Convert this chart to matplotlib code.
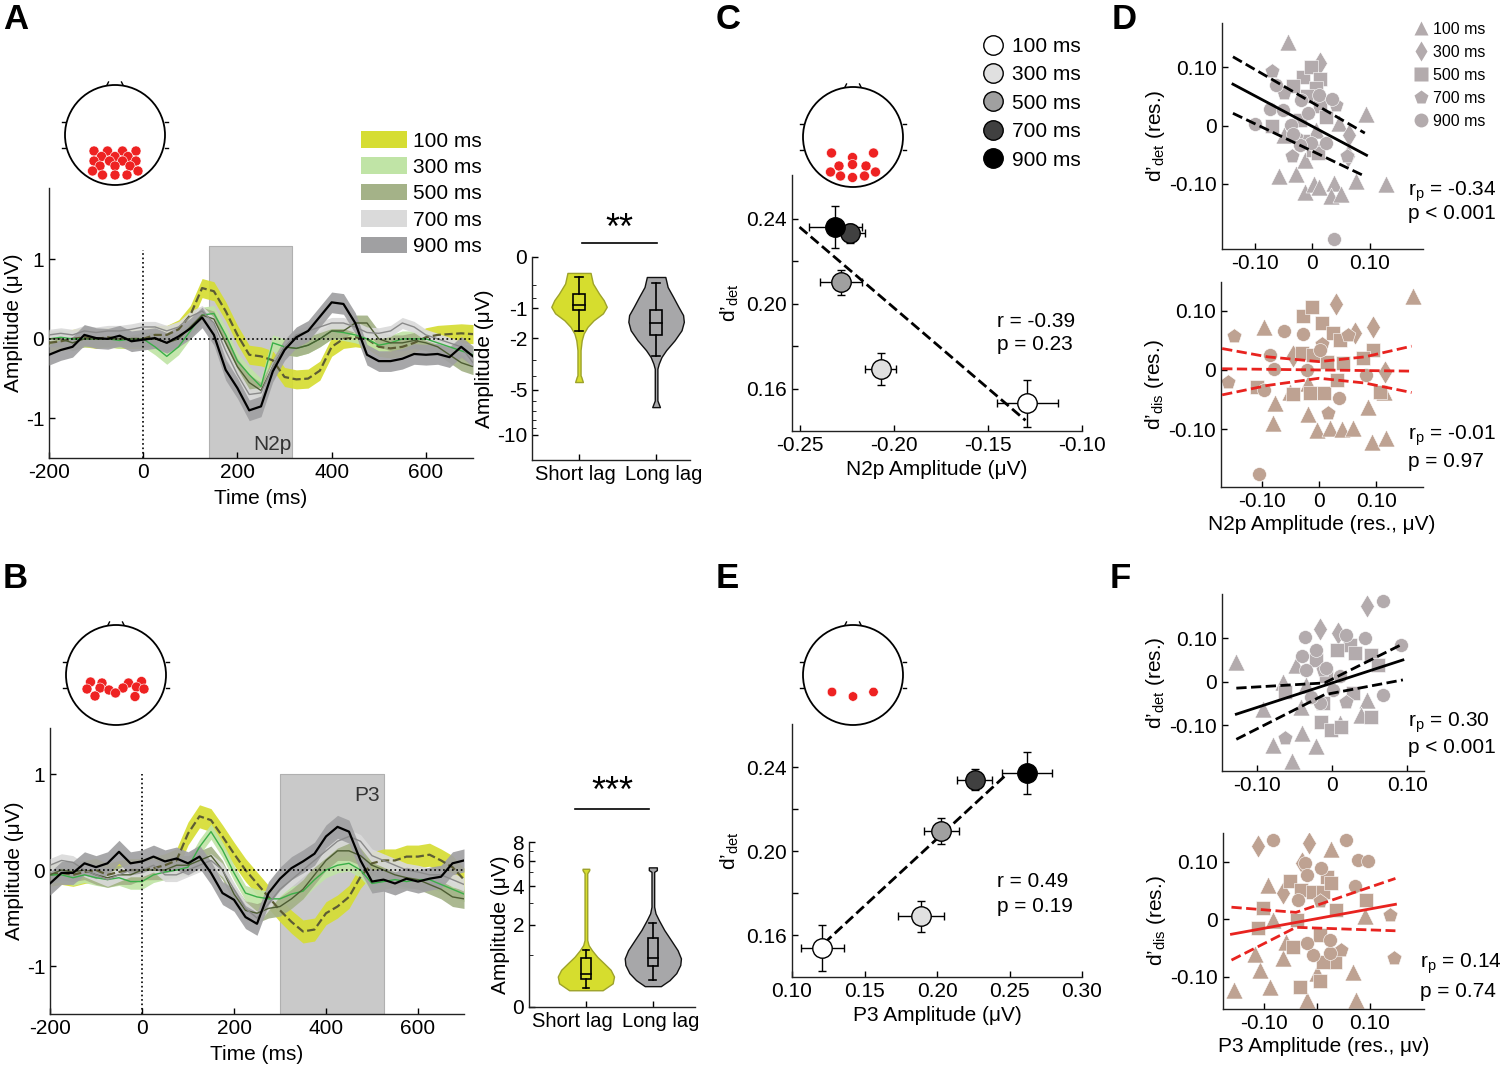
import numpy as np
import matplotlib
matplotlib.use("Agg")
import matplotlib.pyplot as plt
import matplotlib.transforms as mtransforms
from matplotlib.patches import Circle, Patch, Rectangle
from matplotlib.lines import Line2D

plt.rcParams['font.family'] = ['Liberation Sans', 'DejaVu Sans']
plt.rcParams['mathtext.fontset'] = 'custom'
plt.rcParams['mathtext.rm'] = 'Liberation Sans'
plt.rcParams['mathtext.it'] = 'Liberation Sans:italic'
plt.rcParams['font.size'] = 15
plt.rcParams['axes.unicode_minus'] = False
plt.rcParams['axes.linewidth'] = 1.0
plt.rcParams['axes.edgecolor'] = '#222222'
plt.rcParams['xtick.direction'] = 'in'
plt.rcParams['ytick.direction'] = 'in'

# ---------------- data ----------------
lags = ['100 ms', '300 ms', '500 ms', '700 ms', '900 ms']

erp_time = list(range(-200, 701, 25))

erp_a = [
    [-0.05, -0.03, 0.0, 0.02, 0.0, 0.02, 0.0, 0.0, 0.0, 0.05, 0.05, 0.12, 0.3, 0.64, 0.6, 0.35, 0.05, -0.2,
     -0.22, -0.27, -0.48, -0.51, -0.5, -0.4, -0.1, 0.0, 0.02, 0.0, -0.1, -0.12, -0.1, -0.05, 0.02, 0.05, 0.06, 0.07, 0.06],
    [0.0, 0.02, 0.0, 0.0, 0.0, 0.0, -0.02, 0.0, 0.0, -0.1, -0.22, -0.1, 0.1, 0.3, 0.32, 0.05, -0.28, -0.45,
     -0.6, -0.05, -0.1, -0.12, -0.08, 0.0, 0.1, 0.08, 0.05, 0.0, -0.08, -0.05, 0.0, 0.0, 0.0, -0.05, -0.1, -0.15, -0.2],
    [0.0, 0.0, -0.05, 0.0, 0.0, 0.0, 0.0, 0.0, 0.0, 0.0, -0.05, 0.0, 0.15, 0.3, 0.25, -0.05, -0.35, -0.55,
     -0.65, -0.35, -0.1, -0.12, -0.08, 0.0, 0.1, 0.1, 0.2, 0.2, 0.0, -0.05, -0.05, -0.02, -0.05, -0.1, -0.2, -0.3, -0.35],
    [0.05, 0.07, 0.05, 0.1, 0.08, 0.1, 0.1, 0.12, 0.15, 0.15, 0.1, 0.15, 0.28, 0.35, 0.2, -0.15, -0.45, -0.7,
     -0.68, -0.35, -0.1, 0.05, 0.1, 0.15, 0.2, 0.2, 0.15, 0.08, 0.07, 0.1, 0.2, 0.15, 0.05, 0.0, -0.05, -0.1, -0.3],
    [-0.2, -0.14, -0.1, 0.05, 0.01, 0.0, 0.04, -0.03, -0.01, 0.01, -0.05, 0.03, 0.13, 0.27, 0.05, -0.39, -0.62, -0.9,
     -0.85, -0.41, -0.14, 0.02, 0.1, 0.28, 0.46, 0.44, 0.2, -0.2, -0.28, -0.28, -0.25, -0.19, -0.2, -0.19, -0.23, -0.1, -0.22],
]
erp_sem_a = [0.12, 0.1, 0.1, 0.07, 0.13]

erp_b = [
    [-0.05, -0.03, -0.05, -0.02, 0.0, -0.05, -0.02, 0.0, 0.0, 0.02, 0.05, 0.1, 0.38, 0.56, 0.52, 0.35, 0.17, 0.0,
     -0.14, -0.28, -0.42, -0.54, -0.64, -0.62, -0.45, -0.38, -0.28, -0.07, 0.07, 0.1, 0.1, 0.14, 0.14, 0.16, 0.1, 0.03, -0.1],
    [-0.05, -0.05, -0.08, -0.05, -0.08, -0.1, -0.08, -0.12, -0.12, -0.05, -0.02, 0.0, 0.03, 0.24, 0.4, 0.21, -0.03, -0.24,
     -0.28, -0.3, -0.3, -0.25, -0.22, -0.1, 0.0, 0.05, 0.07, 0.0, -0.14, -0.12, -0.1, -0.12, -0.1, -0.1, -0.15, -0.2, -0.25],
    [-0.05, 0.0, -0.02, 0.0, -0.05, -0.08, -0.05, -0.05, 0.0, 0.0, 0.0, 0.05, 0.05, 0.1, 0.15, 0.0, -0.25, -0.42,
     -0.45, -0.4, -0.38, -0.3, -0.2, -0.05, 0.1, 0.2, 0.2, 0.15, 0.05, 0.0, -0.05, -0.08, -0.1, -0.15, -0.2, -0.28, -0.3],
    [0.05, 0.1, 0.08, 0.0, -0.05, -0.1, -0.05, 0.0, 0.0, 0.05, -0.05, -0.05, 0.0, 0.05, 0.1, 0.0, -0.2, -0.4,
     -0.5, -0.35, -0.2, -0.1, 0.0, 0.1, 0.2, 0.3, 0.35, 0.3, 0.15, 0.1, 0.05, 0.0, -0.02, -0.05, -0.05, -0.1, -0.15],
    [-0.14, -0.03, -0.03, 0.07, 0.03, 0.07, 0.19, 0.07, 0.09, 0.14, 0.09, 0.12, 0.07, 0.14, -0.03, -0.24, -0.31, -0.49,
     -0.56, -0.24, -0.09, 0.02, 0.09, 0.17, 0.35, 0.45, 0.4, 0.1, -0.12, -0.1, -0.14, -0.09, -0.12, -0.09, -0.07, 0.07, 0.1],
]
erp_sem_b = [0.12, 0.08, 0.1, 0.07, 0.12]

n2p_window = [140, 315]
p3_window = [300, 525]

# violins (amplitude level, half width)
viol_a_short_lv = [-0.24, -0.43, -0.64, -0.79, -0.96, -1.14, -1.35, -1.57, -1.81, -2.08, -2.52, -3.94, -4.06, -4.41]
viol_a_short_hw = [0.15, 0.18, 0.26, 0.32, 0.36, 0.31, 0.19, 0.11, 0.06, 0.035, 0.02, 0.02, 0.03, 0.05]
viol_a_long_lv = [-0.31, -0.50, -0.71, -0.96, -1.19, -1.40, -1.69, -2.08, -2.52, -2.86, -3.22, -3.52, -5.94, -6.59]
viol_a_long_hw = [0.12, 0.15, 0.22, 0.29, 0.35, 0.36, 0.33, 0.24, 0.13, 0.07, 0.035, 0.017, 0.017, 0.05]
box_a_short = [-1.72, -1.05, -0.91, -0.64, -0.31]
box_a_long = [-2.82, -1.88, -1.45, -1.05, -0.42]

viol_b_short_lv = [0.25, 0.37, 0.50, 0.64, 0.79, 0.95, 1.13, 1.28, 1.44, 4.93, 5.19, 5.30]
viol_b_short_hw = [0.25, 0.40, 0.42, 0.37, 0.27, 0.17, 0.09, 0.04, 0.02, 0.02, 0.05, 0.05]
viol_b_long_lv = [0.32, 0.43, 0.57, 0.75, 0.91, 1.13, 1.44, 1.79, 2.18, 2.48, 2.80, 5.05, 5.19, 5.42]
viol_b_long_hw = [0.12, 0.25, 0.35, 0.41, 0.42, 0.37, 0.27, 0.17, 0.09, 0.04, 0.02, 0.02, 0.06, 0.06]
box_b_short = [0.28, 0.45, 0.55, 0.91, 1.15]
box_b_long = [0.43, 0.73, 0.91, 1.50, 2.07]

# group means (C: N2p, E: P3)
c_x = [-0.129, -0.207, -0.228, -0.223, -0.231]
c_y = [0.153, 0.169, 0.210, 0.233, 0.236]
c_xerr = [0.016, 0.008, 0.011, 0.008, 0.014]
c_yerr = [0.011, 0.0075, 0.006, 0.0045, 0.010]
c_fit_x = [-0.250, -0.130]
c_fit_y = [0.236, 0.145]

e_x = [0.121, 0.189, 0.203, 0.226, 0.262]
e_y = [0.154, 0.169, 0.2095, 0.234, 0.237]
e_xerr = [0.015, 0.016, 0.012, 0.012, 0.017]
e_yerr = [0.011, 0.0074, 0.006, 0.005, 0.010]
e_fit_x = [0.122, 0.248]
e_fit_y = [0.156, 0.2365]

# residual scatter (per lag: 100, 300, 500, 700, 900)
dtop_x = [
    [-0.043, 0.093, 0.127, -0.058, -0.029, -0.013, -0.013, 0.002, 0.011, 0.038, 0.032, 0.050, 0.075, 0.046, -0.049, 0.007],
    [0.013, 0.064, 0.061],
    [-0.071, -0.017, -0.003, 0.014, 0.006, -0.010, 0.013, 0.024, -0.016, 0.001, 0.010, -0.034, -0.022],
    [-0.071, -0.049, -0.035, 0.041, 0.060, -0.028],
    [-0.099, -0.074, -0.063, -0.051, -0.037, -0.019, 0.012, 0.034, -0.002, 0.024, -0.022, 0.038, -0.008, -0.034],
]
dtop_y = [
    [0.144, 0.020, -0.100, -0.087, -0.083, -0.060, -0.115, -0.100, -0.105, -0.098, -0.121, -0.117, -0.096, 0.004, -0.016, -0.007],
    [0.107, -0.016, -0.053],
    [-0.001, 0.084, 0.101, 0.079, 0.064, 0.050, 0.033, 0.015, -0.027, -0.042, -0.047, 0.067, 0.010],
    [0.093, 0.055, -0.053, 0.036, -0.053, -0.019],
    [0.003, 0.028, 0.070, 0.027, 0.001, 0.044, 0.053, 0.045, -0.030, -0.030, -0.033, -0.195, 0.021, -0.014],
]
dtop_fit_x = [-0.138, 0.094]
dtop_fit_y = [0.071, -0.051]
dtop_ci_x = [-0.138, 0.091]
dtop_ci_hi = [0.118, -0.013]
dtop_ci_lo = [0.021, -0.087]

dbot_x = [
    [0.165, -0.097, -0.078, -0.081, -0.019, -0.004, 0.019, 0.040, 0.060, 0.086, 0.092, 0.118, 0.113, -0.019, -0.051],
    [0.030, 0.095, 0.063, 0.115, -0.046],
    [-0.029, -0.013, 0.005, 0.025, 0.037, -0.030, -0.011, 0.013, 0.042, 0.095, -0.109, -0.045, -0.016, 0.008, 0.031, 0.107, 0.076],
    [-0.150, -0.160, 0.005, 0.016, 0.051],
    [-0.062, -0.029, -0.087, -0.079, -0.097, 0.034, 0.082, -0.106, 0.002, -0.022],
]
dbot_y = [
    [0.125, 0.073, -0.055, -0.090, -0.074, -0.101, -0.098, -0.100, -0.097, -0.062, -0.121, -0.115, -0.037, -0.022, -0.037],
    [0.111, 0.072, 0.062, -0.003, 0.024],
    [0.090, 0.106, 0.079, 0.062, 0.051, 0.028, 0.025, 0.014, 0.011, 0.034, -0.028, -0.040, -0.039, -0.039, -0.017, -0.037, 0.020],
    [0.057, -0.020, 0.044, -0.072, 0.059],
    [0.065, 0.061, 0.025, 0.001, -0.033, -0.048, -0.008, -0.175, 0.034, 0.0],
]
dbot_fit_x = [-0.170, 0.162]
dbot_fit_y = [0.002, -0.002]
dbot_ci_x = [-0.170, -0.090, 0.0, 0.080, 0.162]
dbot_ci_hi = [0.036, 0.022, 0.014, 0.022, 0.040]
dbot_ci_lo = [-0.042, -0.026, -0.014, -0.022, -0.038]

ftop_x = [
    [-0.127, -0.092, -0.078, -0.053, -0.040, -0.021, -0.065, -0.048, -0.041, 0.046, 0.039, 0.010, -0.034],
    [-0.016, 0.046, 0.008],
    [-0.063, -0.014, -0.002, 0.012, 0.052, 0.052, 0.061, 0.024, 0.006, -0.021, -0.008, 0.030, -0.012, 0.028],
    [-0.062, 0.019, -0.012],
    [-0.036, -0.040, -0.021, 0.019, 0.044, 0.068, 0.092, 0.068, -0.008, 0.001, -0.034, -0.016, 0.010, -0.028],
]
ftop_y = [
    [0.046, -0.064, -0.146, -0.182, -0.119, -0.148, 0.0, 0.038, -0.058, -0.042, -0.077, -0.096, -0.008],
    [0.121, 0.175, 0.112],
    [-0.023, -0.092, -0.112, -0.104, -0.081, 0.062, 0.038, 0.085, 0.073, 0.050, 0.012, 0.065, -0.050, -0.027],
    [-0.131, -0.046, 0.027],
    [0.104, 0.059, 0.073, 0.108, 0.100, 0.185, 0.085, -0.031, 0.031, -0.019, 0.027, -0.050, 0.012, -0.035],
]
ftop_fit_x = [-0.127, 0.094]
ftop_fit_y = [-0.075, 0.050]
ftop_ci_x = [-0.127, -0.010, 0.094]
ftop_ci_hi = [-0.015, -0.003, 0.087]
ftop_ci_lo = [-0.133, -0.030, 0.004]

fbot_x = [
    [-0.158, -0.108, -0.118, -0.089, -0.092, -0.083, -0.064, -0.019, -0.001, 0.027, 0.068, 0.073, 0.090, -0.058],
    [-0.111, -0.015, -0.064, -0.028],
    [-0.102, -0.111, -0.052, -0.030, -0.008, 0.011, 0.018, 0.027, 0.093, -0.033, 0.005, 0.033, 0.011, -0.045, 0.005, 0.036, -0.039],
    [0.137, 0.145, 0.046, 0.005],
    [-0.083, 0.054, -0.023, -0.020, 0.008, 0.077, 0.096, 0.071, -0.036, -0.008, 0.024, 0.024, -0.020],
]
fbot_y = [
    [-0.123, -0.088, -0.060, -0.117, 0.060, -0.001, -0.068, -0.140, -0.094, 0.123, -0.091, -0.140, 0.005, -0.039],
    [0.128, 0.132, 0.045, 0.097],
    [0.019, -0.016, 0.066, 0.051, 0.048, 0.048, 0.074, 0.063, 0.034, -0.117, -0.108, -0.074, -0.074, -0.048, -0.027, 0.016, -0.001],
    [0.008, -0.068, -0.053, 0.031],
    [0.137, 0.138, 0.097, 0.077, 0.089, 0.103, 0.102, 0.058, 0.034, -0.062, -0.059, -0.036, -0.042],
]
fbot_fit_x = [-0.162, 0.148]
fbot_fit_y = [-0.026, 0.026]
fbot_ci_x = [-0.162, -0.040, 0.148]
fbot_ci_hi = [0.021, 0.012, 0.071]
fbot_ci_lo = [-0.071, -0.014, -0.020]

# electrode sites on the head sketches (unit-radius head)
head_a_x = [-0.42, -0.15, 0.15, 0.42, -0.27, 0.0, 0.26, -0.42, -0.11, 0.15, 0.42, -0.3, 0.0, 0.3, -0.45, 0.46, -0.25, 0.0, 0.24]
head_a_y = [-0.32, -0.32, -0.32, -0.32, -0.43, -0.43, -0.43, -0.52, -0.52, -0.52, -0.52, -0.62, -0.62, -0.62, -0.72, -0.72, -0.8, -0.8, -0.8]
head_b_x = [-0.51, -0.28, 0.25, 0.51, -0.58, -0.32, -0.14, 0.14, 0.41, 0.56, -0.42, -0.01, 0.38]
head_b_y = [-0.14, -0.16, -0.16, -0.13, -0.28, -0.26, -0.30, -0.26, -0.24, -0.28, -0.42, -0.36, -0.43]
head_c_x = [-0.43, 0.41, -0.01, -0.28, -0.01, 0.26, -0.45, -0.25, -0.01, 0.23, 0.45]
head_c_y = [-0.32, -0.32, -0.41, -0.58, -0.55, -0.58, -0.70, -0.78, -0.81, -0.78, -0.70]
head_e_x = [-0.42, 0.0, 0.41]
head_e_y = [-0.34, -0.43, -0.34]

# ---------------- styles ----------------
band_colors = ['#d6dd33', '#c0e4a6', '#a4b288', '#dadada', '#a0a0a2']
line_colors = ['#5c5c34', '#3aaf48', '#4d5c33', '#8a8a8a', '#000000']
dot_colors = ['#ffffff', '#e0e0e0', '#a0a0a0', '#404040', '#000000']
shape_markers = ['^', 'd', 's', 'p', 'o']
shape_sizes = [150, 140, 105, 125, 100]
det_color = '#b3abad'
dis_color = '#bea292'

W, H = 1500, 1065
fig = plt.figure(figsize=(15, 10.65), dpi=100)


def add_ax(x0, x1, ytop, ybot):
    return fig.add_axes([x0 / W, 1 - ybot / H, (x1 - x0) / W, (ybot - ytop) / H])


def clean(ax):
    ax.spines['top'].set_visible(False)
    ax.spines['right'].set_visible(False)
    ax.tick_params(length=4, width=1, labelsize=15)


def draw_head(cx, cy, xs, ys, dot_r):
    hax = fig.add_axes([(cx - 62) / W, 1 - (cy + 62) / H, 124 / W, 124 / H])
    hax.set_xlim(-1.24, 1.24)
    hax.set_ylim(-1.24, 1.24)
    hax.axis('off')
    hax.add_patch(Circle((0, 0), 1, fill=False, lw=1.3, ec='black'))
    for sy in [0.26, -0.26]:
        hax.plot([-1.0, -1.06], [sy, sy], color='black', lw=1)
        hax.plot([1.0, 1.06], [sy, sy], color='black', lw=1)
    hax.plot([-0.16, -0.13], [1.0, 1.06], color='black', lw=1)
    hax.plot([0.13, 0.16], [1.06, 1.0], color='black', lw=1)
    for x, y in zip(xs, ys):
        hax.add_patch(Circle((x, y), dot_r, fc='#ee2222', ec='white', lw=0.4))


def draw_erp(ax, means, sems, window, win_top, win_label, label_xy, vline_top, ylim):
    ax.fill_between(window, ylim[0], win_top, color='#c9c9c9', lw=0.8, edgecolor='#b0b0b0', zorder=0)
    t = np.array(erp_time)
    for i in range(5):
        m = np.array(means[i])
        ax.fill_between(t, m - sems[i], m + sems[i], color=band_colors[i], lw=0, alpha=0.92, zorder=1 + i)
    for i in range(5):
        ax.plot(t, means[i], color=line_colors[i], lw=1.6 if i in (0, 4) else 1.0,
                ls='--' if i == 0 else '-', zorder=7)
    ax.axhline(0, color='black', ls=':', lw=1.2, zorder=8)
    ax.plot([0, 0], [ylim[0], vline_top], color='black', ls=':', lw=1.2, zorder=8)
    ax.text(label_xy[0], label_xy[1], win_label, ha='center', va='center', fontsize=15, color='#333333', zorder=9)
    ax.set_xlim(-200, 700)
    ax.set_ylim(*ylim)
    ax.set_xticks([-200, 0, 200, 400, 600])
    ax.set_yticks([-1, 0, 1])
    ax.set_xlabel('Time (ms)', fontsize=15, labelpad=5)
    ax.set_ylabel('Amplitude (μV)', fontsize=15, labelpad=2)
    clean(ax)


def fwd(v):
    v = np.asarray(v, dtype=float)
    return np.sign(v) * np.log10(1 + np.abs(v))


def inv(u):
    u = np.asarray(u, dtype=float)
    return np.sign(u) * (10 ** np.abs(u) - 1)


def draw_violin(ax, pos, lv, hw, box, face, edge):
    lv = np.array(lv)
    hw = np.array(hw)
    ax.fill_betweenx(lv, pos - hw, pos + hw, facecolor=face, edgecolor=edge, lw=1.0, zorder=2)
    wlo, q1, med, q3, whi = box
    ax.plot([pos, pos], [wlo, q1], color='black', lw=1.2, zorder=3)
    ax.plot([pos, pos], [q3, whi], color='black', lw=1.2, zorder=3)
    ax.plot([pos - 0.05, pos + 0.05], [wlo, wlo], color='black', lw=1.2, zorder=3)
    ax.plot([pos - 0.05, pos + 0.05], [whi, whi], color='black', lw=1.2, zorder=3)
    ax.add_patch(Rectangle((pos - 0.075, q1), 0.15, q3 - q1, fill=False, ec='black', lw=1.2, zorder=3))
    ax.plot([pos - 0.075, pos + 0.075], [med, med], color='black', lw=1.2, zorder=3)


def violin_xlabels(ax, shifts):
    ax.set_xticks([1, 2])
    ax.set_xticklabels(['Short lag', 'Long lag'], fontsize=14.5)
    for lab, dx in zip(ax.get_xticklabels(), shifts):
        lab.set_transform(lab.get_transform() + mtransforms.ScaledTranslation(dx / 100, 0, fig.dpi_scale_trans))


def draw_means(ax, xs, ys, xerr, yerr, fit_x, fit_y):
    ax.errorbar(xs, ys, xerr=xerr, yerr=yerr, fmt='none', ecolor='black', elinewidth=1, capsize=3, zorder=2)
    ax.plot(fit_x, fit_y, color='black', ls='--', lw=2, zorder=3)
    for i in range(5):
        ax.plot(xs[i], ys[i], 'o', ms=14, mfc=dot_colors[i], mec='black', mew=1, zorder=4)
    ax.set_ylim(0.14, 0.2605)
    ax.set_yticks([0.16, 0.18, 0.20, 0.22, 0.24])
    ax.set_yticklabels(['0.16', '', '0.20', '', '0.24'])
    ax.set_ylabel('d’$_{\\mathrm{det}}$', fontsize=15)
    clean(ax)


def draw_resid(ax, xs, ys, color, fit_x, fit_y, ci_x, ci_hi, ci_lo, lcolor, fit_ls, xlim, ylim, ylab):
    for i in range(5):
        ax.scatter(xs[i], ys[i], marker=shape_markers[i], s=shape_sizes[i], c=color,
                   edgecolors='white', linewidths=0.4, zorder=2)
    ax.plot(fit_x, fit_y, color=lcolor, lw=2, ls=fit_ls, zorder=3)
    ax.plot(ci_x, ci_hi, color=lcolor, lw=2, ls='--', zorder=3)
    ax.plot(ci_x, ci_lo, color=lcolor, lw=2, ls='--', zorder=3)
    ax.set_xlim(*xlim)
    ax.set_ylim(*ylim)
    ax.set_xticks([-0.1, 0, 0.1])
    ax.set_xticklabels(['-0.10', '0', '0.10'])
    ax.set_yticks([-0.1, 0, 0.1])
    ax.set_yticklabels(['-0.10', '0', '0.10'])
    ax.set_ylabel(ylab, fontsize=15, labelpad=2)
    clean(ax)


# ---------------- A ----------------
ax = add_ax(49, 473, 188, 458)
draw_erp(ax, erp_a, erp_sem_a, n2p_window, 1.17, 'N2p', (274, -1.33), 1.12, (-1.5, 1.9))
ax.legend([Patch(facecolor=c, edgecolor='none') for c in band_colors], lags, loc='upper left',
          bbox_to_anchor=(361 / W, 1 - 131 / H), bbox_transform=fig.transFigure, frameon=False,
          fontsize=15, handlelength=2.2, handleheight=0.85, labelspacing=0.33, handletextpad=0.3,
          borderpad=0, borderaxespad=0)
draw_head(115, 135, head_a_x, head_a_y, 0.1)

ax = add_ax(532, 690, 257, 460)
ax.set_yscale('function', functions=(fwd, inv))
draw_violin(ax, 1, viol_a_short_lv, viol_a_short_hw, box_a_short, '#d6dd2e', '#9da22a')
draw_violin(ax, 2, viol_a_long_lv, viol_a_long_hw, box_a_long, '#a7a7a9', '#111111')
ax.set_ylim(-14.5, 0)
ax.set_xlim(0.39, 2.44)
ax.set_yticks([0, -1, -2, -5, -10])
ax.set_yticklabels(['0', '-1', '-2', '-5', '-10'])
ax.set_yticks([-0.45, -0.75, -3, -4, -6, -7, -8, -9], minor=True)
ax.tick_params(which='minor', length=3, direction='in')
ax.set_ylabel('Amplitude (μV)', fontsize=15, labelpad=2)
clean(ax)
violin_xlabels(ax, [-4, 8])
ax.plot([1.04, 2.01], [1.069, 1.069], color='black', lw=1.2, transform=ax.get_xaxis_transform(), clip_on=False)
ax.text(1.52, 1.135, '**', ha='center', va='center', fontsize=26, transform=ax.get_xaxis_transform())

# ---------------- B ----------------
ax = add_ax(50, 464, 728, 1014)
draw_erp(ax, erp_b, erp_sem_b, p3_window, 1.0, 'P3', (490, 0.78), 1.0, (-1.5, 1.48))
draw_head(116, 675, head_b_x, head_b_y, 0.1)

ax = add_ax(529, 695, 842, 1007)
ax.set_yscale('function', functions=(fwd, inv))
draw_violin(ax, 1, viol_b_short_lv, viol_b_short_hw, box_b_short, '#d6dd2e', '#9da22a')
draw_violin(ax, 2, viol_b_long_lv, viol_b_long_hw, box_b_long, '#a7a7a9', '#111111')
ax.set_ylim(0, 8)
ax.set_xlim(0.15, 2.63)
ax.set_yticks([0, 2, 4, 6, 8])
ax.set_yticks([1, 3, 5, 7], minor=True)
ax.tick_params(which='minor', length=3, direction='in')
ax.set_ylabel('Amplitude (μV)', fontsize=15, labelpad=2)
clean(ax)
violin_xlabels(ax, [-14, 8])
ax.plot([0.84, 1.94], [1.2, 1.2], color='black', lw=1.2, transform=ax.get_xaxis_transform(), clip_on=False)
ax.text(1.39, 1.30, '***', ha='center', va='center', fontsize=26, transform=ax.get_xaxis_transform())

# ---------------- C ----------------
ax = add_ax(792, 1082, 175, 431)
draw_means(ax, c_x, c_y, c_xerr, c_yerr, c_fit_x, c_fit_y)
ax.set_xlim(-0.254, -0.10)
ax.set_xticks([-0.25, -0.20, -0.15, -0.10])
ax.set_xticklabels(['-0.25', '-0.20', '-0.15', '-0.10'])
ax.set_xlabel('N2p Amplitude (μV)', fontsize=15, labelpad=4)
ax.text(0.707, 0.426, 'r = -0.39', transform=ax.transAxes, va='center', fontsize=15)
ax.text(0.707, 0.336, 'p = 0.23', transform=ax.transAxes, va='center', fontsize=15)
ax.legend([Line2D([], [], ls='', marker='o', ms=14, mfc=c, mec='black') for c in dot_colors], lags,
          loc='upper left', bbox_to_anchor=(983 / W, 1 - 37 / H), bbox_transform=fig.transFigure,
          frameon=False, fontsize=15, labelspacing=0.45, handlelength=1.0, handletextpad=0.4,
          borderpad=0, borderaxespad=0)
draw_head(853, 137, head_c_x, head_c_y, 0.1)

# ---------------- E ----------------
ax = add_ax(792, 1082, 724, 977)
draw_means(ax, e_x, e_y, e_xerr, e_yerr, e_fit_x, e_fit_y)
ax.set_xlim(0.10, 0.30)
ax.set_xticks([0.10, 0.15, 0.20, 0.25, 0.30])
ax.set_xticklabels(['0.10', '0.15', '0.20', '0.25', '0.30'])
ax.set_xlabel('P3 Amplitude (μV)', fontsize=15, labelpad=4)
ax.text(0.707, 0.379, 'r = 0.49', transform=ax.transAxes, va='center', fontsize=15)
ax.text(0.707, 0.277, 'p = 0.19', transform=ax.transAxes, va='center', fontsize=15)
draw_head(853, 675, head_e_x, head_e_y, 0.095)

# ---------------- D ----------------
ax = add_ax(1222, 1423, 23, 249)
draw_resid(ax, dtop_x, dtop_y, det_color, dtop_fit_x, dtop_fit_y, dtop_ci_x, dtop_ci_hi, dtop_ci_lo,
           'black', '-', (-0.157, 0.192), (-0.212, 0.176), 'd’$_{\\mathrm{det}}$ (res.)')
ax.text(0.925, 0.252, 'r$_\\mathrm{p}$ = -0.34', transform=ax.transAxes, va='center', fontsize=15)
ax.text(0.925, 0.159, 'p < 0.001', transform=ax.transAxes, va='center', fontsize=15)
ax.legend([Line2D([], [], ls='', marker=m, ms=10, mfc=det_color, mec='none') for m in shape_markers], lags,
          loc='upper left', bbox_to_anchor=(1414 / W, 1 - 22 / H), bbox_transform=fig.transFigure,
          frameon=False, fontsize=11.5, labelspacing=0.5, handlelength=0.9, handletextpad=0.3,
          borderpad=0, borderaxespad=0)

ax = add_ax(1221, 1423, 282, 487)
draw_resid(ax, dbot_x, dbot_y, dis_color, dbot_fit_x, dbot_fit_y, dbot_ci_x, dbot_ci_hi, dbot_ci_lo,
           '#e8231f', '--', (-0.172, 0.182), (-0.197, 0.148), 'd’$_{\\mathrm{dis}}$ (res.)')
ax.set_xlabel('N2p Amplitude (res., μV)', fontsize=15, labelpad=3)
ax.text(0.926, 0.249, 'r$_\\mathrm{p}$ = -0.01', transform=ax.transAxes, va='center', fontsize=15)
ax.text(0.926, 0.122, 'p = 0.97', transform=ax.transAxes, va='center', fontsize=15)

# ---------------- F ----------------
ax = add_ax(1222, 1424, 594, 771)
draw_resid(ax, ftop_x, ftop_y, det_color, ftop_fit_x, ftop_fit_y, ftop_ci_x, ftop_ci_hi, ftop_ci_lo,
           'black', '-', (-0.146, 0.122), (-0.206, 0.202), 'd’$_{\\mathrm{det}}$ (res.)')
ax.text(0.92, 0.271, 'r$_\\mathrm{p}$ = 0.30', transform=ax.transAxes, va='center', fontsize=15)
ax.text(0.92, 0.13, 'p < 0.001', transform=ax.transAxes, va='center', fontsize=15)

ax = add_ax(1223, 1424, 833, 1009)
draw_resid(ax, fbot_x, fbot_y, dis_color, fbot_fit_x, fbot_fit_y, fbot_ci_x, fbot_ci_hi, fbot_ci_lo,
           '#e8231f', '-', (-0.178, 0.202), (-0.156, 0.150), 'd’$_{\\mathrm{dis}}$ (res.)')
ax.set_xlabel('P3 Amplitude (res., μv)', fontsize=15, labelpad=3)
ax.text(0.98, 0.256, 'r$_\\mathrm{p}$ = 0.14', transform=ax.transAxes, va='center', fontsize=15)
ax.text(0.98, 0.097, 'p = 0.74', transform=ax.transAxes, va='center', fontsize=15)

# panel letters
for letter, px, py in [('A', 3, 3), ('B', 3, 562), ('C', 716, 3), ('D', 1112, 3), ('E', 716, 562), ('F', 1110, 562)]:
    fig.text(px / W, 1 - py / H, letter, fontsize=25, fontweight='bold', va='top', ha='left')

fig.savefig('out.png', dpi=100)
